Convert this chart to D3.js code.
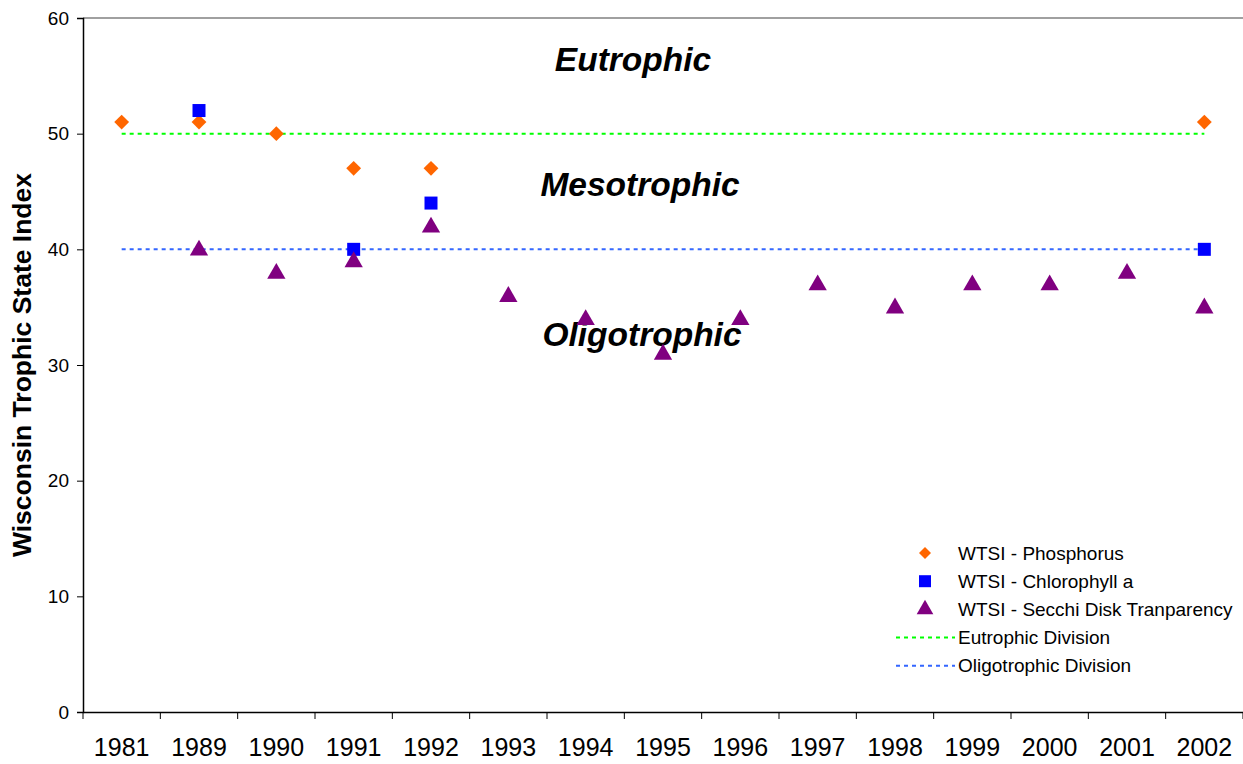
<!DOCTYPE html>
<html><head><meta charset="utf-8">
<script src="https://cdn.jsdelivr.net/npm/d3@7"></script>
<style>body{margin:0;background:#fff;} svg{display:block;font-family:Arial,"Liberation Sans",sans-serif;}</style>
</head><body>
<svg id="c" width="1243" height="764"></svg>
<script>
const years = ["1981","1989","1990","1991","1992","1993","1994","1995","1996","1997","1998","1999","2000","2001","2002"];
const phosphorus = [51,51,50,47,47,null,null,null,null,null,null,null,null,null,51];
const chlorophyll = [null,52,null,40,44,null,null,null,null,null,null,null,null,null,40];
const secchi = [null,40,38,39,42,36,34,31,34,37,35,37,37,38,35];
const eutrophicDivision = 50;
const oligotrophicDivision = 40;
const yTicks = [0,10,20,30,40,50,60];
const zoneLabels = [{t:"Eutrophic", v:55.4},{t:"Mesotrophic", v:44.6},{t:"Oligotrophic", v:31.6}];

const svg = d3.select("#c");
const L = 83, R = 1243, T = 18, B = 712;
const x = d3.scaleBand().domain(years).range([L, R]);
const y = d3.scaleLinear().domain([0,60]).range([B, T]);
const cx = d => x(d) + x.bandwidth()/2;

// top border
svg.append("line").attr("x1",L).attr("x2",R).attr("y1",y(60)).attr("y2",y(60)).attr("stroke","#808080").attr("stroke-width",1.5);

// y axis
const ya = svg.append("g").attr("transform",`translate(${L},0)`).call(d3.axisLeft(y).tickValues(yTicks).tickSize(6).tickPadding(8));
ya.select(".domain").attr("stroke","#000").attr("stroke-width",1.5);
ya.selectAll(".tick line").attr("stroke","#000");
ya.selectAll("text").attr("font-size",19).attr("fill","#000").attr("font-family","Arial,'Liberation Sans',sans-serif");

// x axis
const xa = svg.append("g").attr("transform",`translate(0,${B})`).call(d3.axisBottom(x).tickSize(0).tickPadding(26));
xa.select(".domain").attr("stroke","#000").attr("stroke-width",1.5);
xa.selectAll("text").attr("font-size",25).attr("fill","#000").attr("font-family","Arial,'Liberation Sans',sans-serif");
// boundary ticks
const bounds = years.map(d => x(d)).concat([R]);
svg.append("g").selectAll("line").data(bounds).join("line")
  .attr("x1",d=>d).attr("x2",d=>d).attr("y1",B).attr("y2",B+7).attr("stroke","#000").attr("stroke-width",1);

// y title
svg.append("text").attr("transform",`translate(31,${(T+B)/2}) rotate(-90)`).attr("text-anchor","middle")
  .attr("font-size",26.5).attr("font-weight","bold").text("Wisconsin Trophic State Index");

// division lines
const first = cx(years[0]), last = cx(years[years.length-1]);
svg.append("line").attr("x1",first).attr("x2",last).attr("y1",y(eutrophicDivision)).attr("y2",y(eutrophicDivision))
  .attr("stroke","#00FF00").attr("stroke-width",2).attr("stroke-dasharray","4,4");
svg.append("line").attr("x1",first).attr("x2",last).attr("y1",y(oligotrophicDivision)).attr("y2",y(oligotrophicDivision))
  .attr("stroke","#3366FF").attr("stroke-width",2).attr("stroke-dasharray","4,4");

// zone labels
svg.append("g").selectAll("text").data(zoneLabels).join("text")
  .attr("x",(d,i)=>[633,640,642][i]).attr("y",d=>y(d.v)).attr("text-anchor","middle")
  .attr("font-size",33.5).attr("font-weight","bold").attr("font-style","italic").text(d=>d.t);

// markers
const diamond = d3.symbol().type(d3.symbolSquare).size(110);
const square = d3.symbol().type(d3.symbolSquare).size(169);
const tri = d3.symbol().type(d3.symbolTriangle).size(145);

function pts(vals){ return years.map((yr,i)=>({yr, v:vals[i]})).filter(d=>d.v!=null); }

svg.append("g").selectAll("path").data(pts(phosphorus)).join("path")
  .attr("d",diamond).attr("transform",d=>`translate(${cx(d.yr)},${y(d.v)}) rotate(45)`).attr("fill","#FF6600");
svg.append("g").selectAll("path").data(pts(chlorophyll)).join("path")
  .attr("d",square).attr("transform",d=>`translate(${cx(d.yr)},${y(d.v)})`).attr("fill","#0000FF");
svg.append("g").selectAll("path").data(pts(secchi)).join("path")
  .attr("d",tri).attr("transform",d=>`translate(${cx(d.yr)},${y(d.v)+1})`).attr("fill","#800080");

// legend
const legend = [
  {t:"WTSI - Phosphorus", k:"d"},
  {t:"WTSI - Chlorophyll a", k:"s"},
  {t:"WTSI - Secchi Disk Tranparency", k:"t"},
  {t:"Eutrophic Division", k:"lg"},
  {t:"Oligotrophic Division", k:"lb"}
];
const lg = svg.append("g");
legend.forEach((d,i)=>{
  const yy = 553 + i*28.2;
  if(d.k==="d") lg.append("path").attr("d",d3.symbol().type(d3.symbolSquare).size(72)).attr("transform",`translate(925,${yy}) rotate(45)`).attr("fill","#FF6600");
  if(d.k==="s") lg.append("path").attr("d",d3.symbol().type(d3.symbolSquare).size(144)).attr("transform",`translate(925,${yy})`).attr("fill","#0000FF");
  if(d.k==="t") lg.append("path").attr("d",d3.symbol().type(d3.symbolTriangle).size(120)).attr("transform",`translate(925,${yy})`).attr("fill","#800080");
  if(d.k==="lg"||d.k==="lb") lg.append("line").attr("x1",896).attr("x2",955).attr("y1",yy).attr("y2",yy)
     .attr("stroke",d.k==="lg"?"#00FF00":"#3366FF").attr("stroke-width",2).attr("stroke-dasharray","4,4");
  lg.append("text").attr("x",958).attr("y",yy).attr("dy","0.35em").attr("font-size",19).text(d.t);
});
</script>
</body></html>
